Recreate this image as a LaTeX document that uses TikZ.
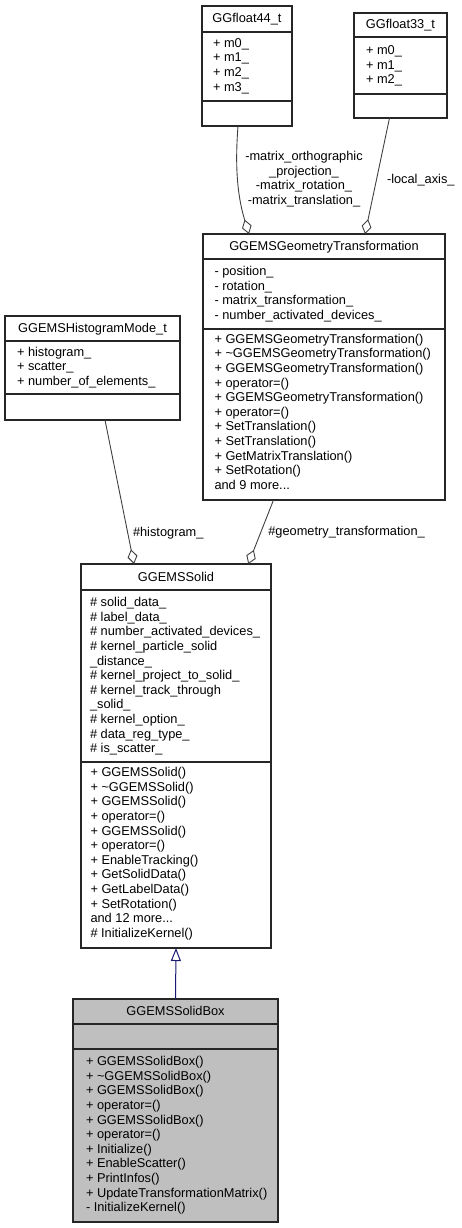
\documentclass[tikz,border=0pt]{standalone}
\usepackage{fontspec}
\setmainfont{Liberation Sans}
\usetikzlibrary{arrows.meta}
\definecolor{edgegray}{HTML}{404040}
\definecolor{inhblue}{HTML}{191970}
\definecolor{boxgray}{HTML}{BFBFBF}
\definecolor{frame}{HTML}{262626}
\newcommand{\tdots}{...}
\tikzset{
  umlframe/.style={draw=frame, line width=1.1pt, inner sep=0pt, outer sep=0pt},
  sepline/.style={draw=frame, line width=1.1pt},
  txt/.style={inner sep=0pt, outer sep=0pt, font=\fontsize{12.8}{14.6}\selectfont},
  assoc/.style={draw=edgegray, line width=0.9pt, -{Diamond[open, length=15pt, width=10pt, line width=0.9pt]}},
  inherit/.style={draw=inhblue, line width=1pt, -{Triangle[open, length=13pt, width=10pt, line width=1pt]}},
}
% #1 name, #2 left, #3 top, #4 right, #5 bottom, #6 sep1, #7 sep2, #8 fill, #9 title
\newcommand{\umlbox}[9]{%
  \node[umlframe, fill=#8, minimum width={#4-#2}, minimum height={#5-#3}]
    (#1) at ({(#2+#4)/2},{(#3+#5)/2}) {};
  \draw[sepline] (#2,#6) -- (#4,#6);
  \draw[sepline] (#2,#7) -- (#4,#7);
  \node[txt, anchor=base] (#1-title) at ({(#2+#4)/2},{(#3+#6)/2+4}) {#9};
}
% #1 name prefix, #2 left x, #3 first baseline, #4 list
\newcommand{\umllines}[4]{%
  \foreach \t [count=\i from 0] in {#4} {
    \node[txt, anchor=base west] (#1\i) at (#2,{#3+\i*14.6}) {\t};
  }
}
\begin{document}
\begin{tikzpicture}[x=1pt,y=-1pt]
\useasboundingbox (0,0) rectangle (461,1228);

% GGfloat44_t
\umlbox{f44}{202}{6}{292}{126}{32}{101}{white}{GGfloat44\_t}
\umllines{f44a}{213}{47.3}{{+ m0\_},{+ m1\_},{+ m2\_},{+ m3\_}}

% GGfloat33_t
\umlbox{f33}{354}{13}{447}{118}{37}{94}{white}{GGfloat33\_t}
\umllines{f33a}{366}{54.7}{{+ m0\_},{+ m1\_},{+ m2\_}}

% GGEMSGeometryTransformation
\umlbox{gt}{203}{234}{445}{500}{259}{329}{white}{GGEMSGeometryTransformation}
\umllines{gta}{214.5}{275.7}{{- position\_},{- rotation\_},{- matrix\_transformation\_},{- number\_activated\_devices\_}}
\umllines{gtm}{214.5}{343.3}{{+ GGEMSGeometryTransformation()},{+ \textasciitilde GGEMSGeometryTransformation()},{+ GGEMSGeometryTransformation()},{+ operator=()},{+ GGEMSGeometryTransformation()},{+ operator=()},{+ SetTranslation()},{+ SetTranslation()},{+ GetMatrixTranslation()},{+ SetRotation()},{and 9 more\tdots}}

% GGEMSHistogramMode_t
\umlbox{hm}{5}{316}{180}{420}{341}{394}{white}{GGEMSHistogramMode\_t}
\umllines{hma}{17}{356.3}{{+ histogram\_},{+ scatter\_},{+ number\_of\_elements\_}}

% GGEMSSolid
\umlbox{gs}{81}{564}{271}{948}{590}{762}{white}{GGEMSSolid}
\umllines{gsa}{90}{606.7}{{\# solid\_data\_},{\# label\_data\_},{\# number\_activated\_devices\_},{\# kernel\_particle\_solid},{\_distance\_},{\# kernel\_project\_to\_solid\_},{\# kernel\_track\_through},{\_solid\_},{\# kernel\_option\_},{\# data\_reg\_type\_},{\# is\_scatter\_}}
\umllines{gsm}{90.5}{776.7}{{+ GGEMSSolid()},{+ \textasciitilde GGEMSSolid()},{+ GGEMSSolid()},{+ operator=()},{+ GGEMSSolid()},{+ operator=()},{+ EnableTracking()},{+ GetSolidData()},{+ GetLabelData()},{+ SetRotation()},{and 12 more\tdots},{\# InitializeKernel()}}

% GGEMSSolidBox
\umlbox{gsb}{73}{999}{278}{1222}{1024}{1049}{boxgray}{GGEMSSolidBox}
\umllines{gsbm}{86}{1065.7}{{+ GGEMSSolidBox()},{+ \textasciitilde GGEMSSolidBox()},{+ GGEMSSolidBox()},{+ operator=()},{+ GGEMSSolidBox()},{+ operator=()},{+ Initialize()},{+ EnableScatter()},{+ PrintInfos()},{+ UpdateTransformationMatrix()},{- InitializeKernel()}}

% connectors
\draw[assoc] ([xshift=-9pt]f44.south) .. controls +(-3,39) and +(-12,-39) .. ([xshift=-75pt]gt.north);
\node[txt, align=center] (l1) at (304,179) {-matrix\_orthographic\\\_projection\_\\-matrix\_rotation\_\\-matrix\_translation\_};

\draw[assoc] ([xshift=-11pt]f33.south) -- ([xshift=41pt]gt.north);
\node[txt, anchor=base west] (l2) at (387,183) {-local\_axis\_};

\draw[assoc] ([xshift=12.5pt]hm.south) -- ([xshift=-42pt]gs.north);
\node[txt, anchor=base west] (l3) at (133,536.3) {\#histogram\_};

\draw[assoc] ([xshift=-50.5pt]gt.south) -- ([xshift=72.3pt]gs.north);
\node[txt, anchor=base west] (l4) at (268.3,535.7) {\#geometry\_transformation\_};

\draw[inherit] (gsb.north) -- (gs.south);
\end{tikzpicture}
\end{document}
